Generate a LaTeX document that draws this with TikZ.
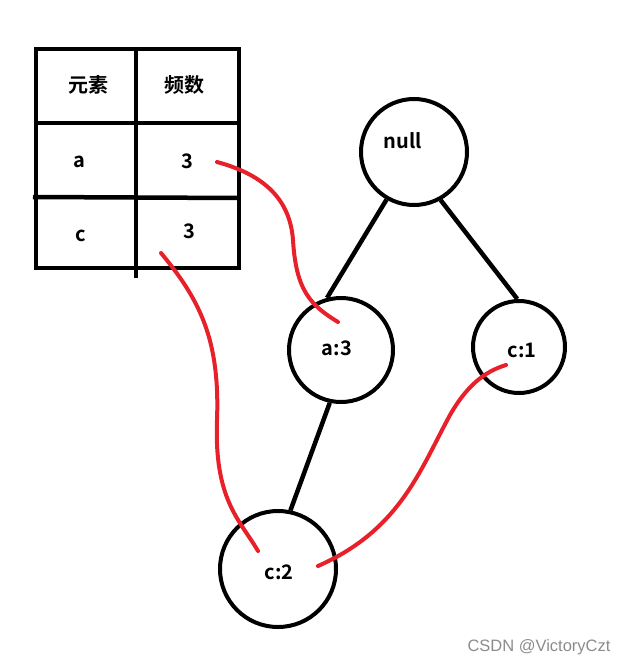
\documentclass[tikz,border=0pt]{standalone}
\usepackage{fontspec}
\newfontfamily\cjk{Noto Sans CJK SC}[BoldFont={Noto Sans CJK SC Bold}]
\setsansfont{Liberation Sans}
\definecolor{redline}{HTML}{E8202A}
\begin{document}
\begin{tikzpicture}[x=1pt,y=-1pt,
  blk/.style={line width=4.5pt},
  circ/.style={circle,draw,line width=4pt,inner sep=0pt},
  lbl/.style={font=\cjk\bfseries\fontsize{20}{23}\selectfont},
  rl/.style={draw=redline,line width=4pt,line cap=round}]
\useasboundingbox (0,0) rectangle (627,666);
% table
\draw[blk] (36,49) rectangle (239,268);
\draw[blk] (36,123) -- (239,123);
\draw[blk] (33,197) -- (239,198);
\draw[blk] (136,49) -- (136,278);
\node[lbl] (h1) at (88,85) {元素};
\node[lbl] (h2) at (184,85) {频数};
\node[lbl] (ra) at (79,162) {a};
\node[lbl] (ra3) at (187,161) {3};
\node[lbl] (rc) at (81,236) {c};
\node[lbl] (rc3) at (189,231) {3};
\coordinate (s1) at (217,162);
\coordinate (s2) at (161,253);
% tree nodes
\node[circ,minimum size=106pt] (null) at (414,152) {};
\node[lbl] (nulltxt) at (403,141) {null};
\node[circ,minimum size=104pt] (a3) at (341,350) {};
\node[lbl] (a3txt) at (337,348) {a:3};
\node[circ,minimum size=92pt] (c1) at (519,347) {};
\node[lbl] (c1txt) at (522,350) {c:1};
\node[circ,minimum size=116pt] (c2) at (278,569) {};
\node[lbl] (c2txt) at (279,572) {c:2};
% edges
\draw[blk] (null.240) -- (a3.105);
\draw[blk] (null.299) -- (c1.92);
\draw[blk] (a3.258) -- (c2.78);
% red links
\coordinate (e1) at (338,322);
\coordinate (e2) at (258,551);
\coordinate (e3a) at (318,566);
\coordinate (e3b) at (506,365);
\draw[rl] (s1) .. controls (265,175) and (290,200) .. (293,240)
  .. controls (296,290) and (310,305) .. (e1);
\draw[rl] (s2) .. controls (200,300) and (220,340) .. (217,420)
  .. controls (214,500) and (240,520) .. (e2);
\draw[rl] (e3a) .. controls (400,530) and (420,470) .. (450,415)
  .. controls (470,380) and (490,370) .. (e3b);
% watermark
\node[font=\sffamily\fontsize{16.5}{19}\selectfont,text=black!45,anchor=east] (wm) at (614,647) {CSDN @VictoryCzt};
\end{tikzpicture}
\end{document}
